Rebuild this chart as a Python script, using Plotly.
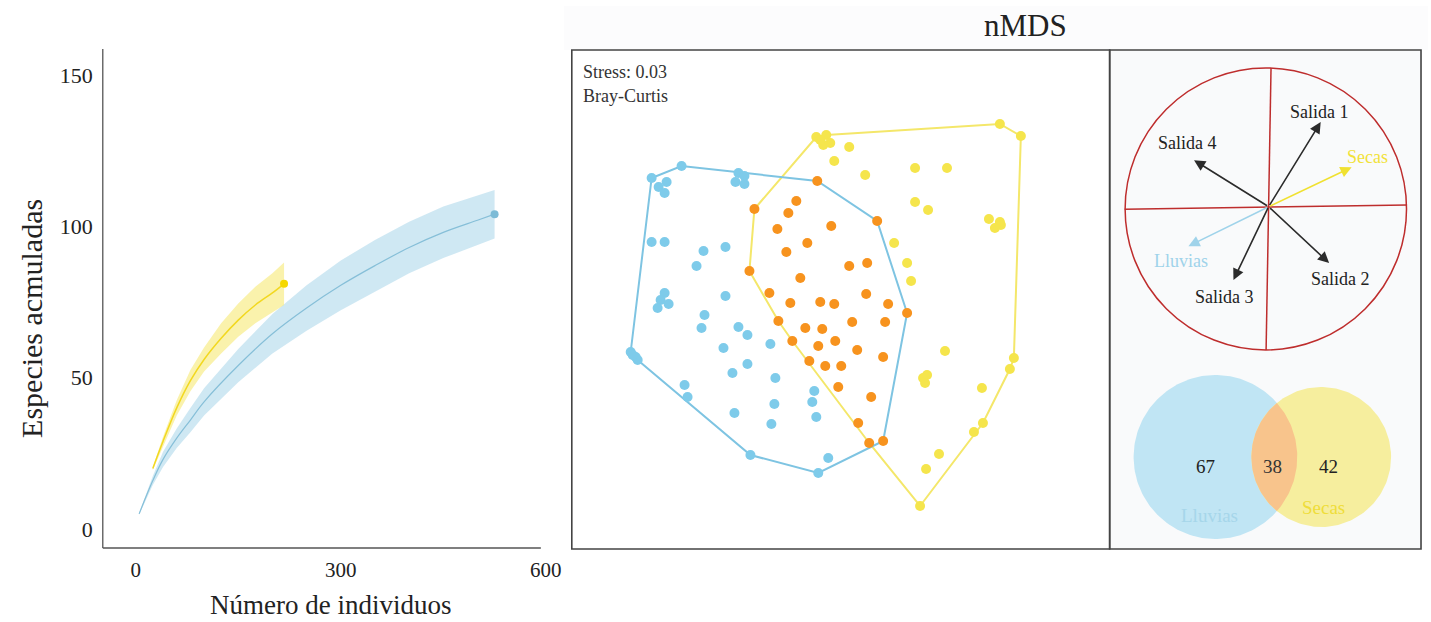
import numpy as np
import plotly.graph_objects as go

W, H = 1431, 622
FONT = "Liberation Serif, Times New Roman, serif"

# ---------------- Data ----------------
# Rarefaction curves
lluvias_n  = [5, 25, 40, 60, 80, 100, 150, 200, 250, 300, 350, 400, 450, 500, 525]
lluvias_s  = [5, 16, 23, 30, 36, 42, 54, 64.5, 73, 80.5, 87, 93, 98, 102, 104]
lluvias_ci = [0.3, 1.5, 2.5, 3.2, 4, 4.5, 5.5, 6.5, 7.5, 8.2, 8.5, 8.5, 8.5, 8.2, 8]
secas_n  = [25, 40, 60, 80, 100, 125, 150, 175, 200, 217]
secas_s  = [20, 29, 40, 49, 56, 63, 69, 74, 78, 81]
secas_ci = [0.5, 1.5, 2.5, 3.5, 4, 5, 5.5, 6, 6.5, 7]
x_ticks = [0, 300, 600]
y_ticks = [0, 50, 100, 150]

# nMDS scores
lluvias_nmds1 = [-1.87, -1.57, -1.80, -1.72, -1.74, -1.00, -0.94, -1.03, -0.94, -1.87, -1.74,
                 -1.35, -1.13, -1.42, -1.74, -1.78, -1.70, -1.81, -1.13, -1.34, -1.37, -1.00,
                 -0.91, -1.15, -0.68, -0.91, -1.06, -0.63, -2.08, -2.03, -2.01, -2.06, -1.54,
                 -1.51, -1.04, -0.64, -0.67, -0.24, -0.26, -0.22, -0.88, -0.20, -0.10]
lluvias_nmds2 = [1.22, 1.34, 1.13, 1.18, 1.07, 1.27, 1.24, 1.18, 1.16, 0.58, 0.58,
                 0.49, 0.53, 0.34, 0.07, 0.00, -0.04, -0.08, 0.04, -0.15, -0.28, -0.27,
                 -0.35, -0.48, -0.44, -0.64, -0.73, -0.78, -0.52, -0.57, -0.60, -0.55, -0.85,
                 -0.97, -1.13, -1.04, -1.24, -0.91, -1.02, -1.17, -1.55, -1.73, -1.58]
secas_nmds1 = [-0.22, -0.12, -0.08, -0.15, -0.18, 0.11, -0.04, 0.27, 0.77, 1.09, 0.77,
               0.90, 1.62, 1.83, 1.51, 1.62, 1.63, 1.57, 0.56, 0.69, 0.73, 1.07,
               0.85, 0.89, 0.87, 1.44, 1.76, 1.72, 1.45, 1.36, 1.01, 0.88, 0.82]
secas_nmds2 = [1.63, 1.65, 1.57, 1.55, 1.60, 1.53, 1.39, 1.25, 1.32, 1.32, 0.98,
               0.90, 1.76, 1.64, 0.81, 0.78, 0.75, 0.72, 0.57, 0.37, 0.19, -0.51,
               -0.78, -0.75, -0.83, -0.88, -0.58, -0.69, -1.23, -1.32, -1.54, -1.69, -2.06]
ambas_nmds1 = [-0.21, 0.39, -0.42, -0.50, -0.84, -0.61, -0.07, -0.31, -0.52, -0.89, 0.11,
               0.29, -0.38, -0.69, -0.48, -0.18, -0.04, 0.28, 0.50, 0.69, -0.60, -0.33,
               -0.16, 0.14, 0.47, -0.46, -0.20, -0.03, 0.19, 0.45, -0.29, -0.13, 0.03,
               0.00, 0.33, 0.20, 0.31, 0.45]
ambas_nmds2 = [1.19, 0.79, 0.99, 0.87, 0.91, 0.71, 0.74, 0.57, 0.48, 0.29, 0.34,
               0.37, 0.22, 0.07, -0.03, -0.02, -0.04, 0.06, -0.04, -0.13, -0.21, -0.28,
               -0.29, -0.22, -0.22, -0.41, -0.46, -0.41, -0.50, -0.57, -0.61, -0.66, -0.66,
               -0.87, -0.97, -1.23, -1.43, -1.41]

# Biplot vectors (unit circle)
vec_names = ["Salida 1", "Salida 4", "Secas", "Lluvias", "Salida 3", "Salida 2"]
vec_x = [0.37, -0.53, 0.59, -0.57, -0.25, 0.43]
vec_y = [0.60, 0.33, 0.28, -0.28, -0.52, -0.40]

# Venn counts
venn_labels = ["Lluvias", "Secas"]
venn_counts = [67, 38, 42]   # solo Lluvias, compartidas, solo Secas

# ---------------- Styles / layout constants ----------------
C_BLUE = "#7ecbea"
C_ORANGE = "#f7931e"
C_YELLOW = "#f5e54c"
vec_colors = ["#2b2b2b", "#2b2b2b", "#f0e130", "#9fd3ea", "#2b2b2b", "#2b2b2b"]
vec_label_colors = ["#222222", "#222222", "#f2e23a", "#9fd3ea", "#222222", "#222222"]
vec_label_pos = [(0.365, 0.674), (-0.574, 0.450), (0.700, 0.350),
                 (-0.621, -0.383), (-0.314, -0.638), (0.513, -0.515)]


def px(x):
    return x / W


def py(y):
    return 1 - y / H


def convex_hull(xs, ys):
    pts = sorted(set(zip(xs, ys)))

    def cross(o, a, b):
        return (a[0] - o[0]) * (b[1] - o[1]) - (a[1] - o[1]) * (b[0] - o[0])
    lower, upper = [], []
    for p in pts:
        while len(lower) >= 2 and cross(lower[-2], lower[-1], p) <= 0:
            lower.pop()
        lower.append(p)
    for p in reversed(pts):
        while len(upper) >= 2 and cross(upper[-2], upper[-1], p) <= 0:
            upper.pop()
        upper.append(p)
    hull = lower[:-1] + upper[:-1]
    hull.append(hull[0])
    return [p[0] for p in hull], [p[1] for p in hull]


fig = go.Figure()

# ---------- Rarefaction ----------
ln, ls, lc = np.array(lluvias_n), np.array(lluvias_s), np.array(lluvias_ci)
sn, ss, sc = np.array(secas_n), np.array(secas_s), np.array(secas_ci)
fig.add_trace(go.Scatter(x=np.concatenate([ln, ln[::-1]]),
                         y=np.concatenate([ls + lc, (ls - lc)[::-1]]),
                         fill="toself", fillcolor="rgba(140,200,226,0.42)",
                         line=dict(width=0), mode="lines", hoverinfo="skip",
                         xaxis="x", yaxis="y", showlegend=False))
fig.add_trace(go.Scatter(x=np.concatenate([sn, sn[::-1]]),
                         y=np.concatenate([ss + sc, (ss - sc)[::-1]]),
                         fill="toself", fillcolor="rgba(246,230,90,0.5)",
                         line=dict(width=0), mode="lines", hoverinfo="skip",
                         xaxis="x", yaxis="y", showlegend=False))
fig.add_trace(go.Scatter(x=lluvias_n, y=lluvias_s, mode="lines", line=dict(color="#86bfd8", width=1.2, shape="spline"),
                         xaxis="x", yaxis="y", showlegend=False))
fig.add_trace(go.Scatter(x=secas_n, y=secas_s, mode="lines", line=dict(color="#f2d820", width=1.5, shape="spline"),
                         xaxis="x", yaxis="y", showlegend=False))
fig.add_trace(go.Scatter(x=[lluvias_n[-1]], y=[lluvias_s[-1]], mode="markers",
                         marker=dict(color="#7dbbd6", size=8), xaxis="x", yaxis="y", showlegend=False))
fig.add_trace(go.Scatter(x=[secas_n[-1]], y=[secas_s[-1]], mode="markers",
                         marker=dict(color="#f5d800", size=8), xaxis="x", yaxis="y", showlegend=False))

# ---------- nMDS ----------
bx, by = convex_hull(lluvias_nmds1 + ambas_nmds1, lluvias_nmds2 + ambas_nmds2)
yx, yy = convex_hull(secas_nmds1 + ambas_nmds1, secas_nmds2 + ambas_nmds2)
fig.add_trace(go.Scatter(x=yx, y=yy, mode="lines", line=dict(color="#f4e76a", width=2),
                         xaxis="x2", yaxis="y2", showlegend=False))
fig.add_trace(go.Scatter(x=bx, y=by, mode="lines", line=dict(color="#7ec4e2", width=2),
                         xaxis="x2", yaxis="y2", showlegend=False))
fig.add_trace(go.Scatter(x=lluvias_nmds1, y=lluvias_nmds2, mode="markers",
                         marker=dict(color=C_BLUE, size=10), xaxis="x2", yaxis="y2", showlegend=False))
fig.add_trace(go.Scatter(x=secas_nmds1, y=secas_nmds2, mode="markers",
                         marker=dict(color=C_YELLOW, size=10), xaxis="x2", yaxis="y2", showlegend=False))
fig.add_trace(go.Scatter(x=ambas_nmds1, y=ambas_nmds2, mode="markers",
                         marker=dict(color=C_ORANGE, size=10), xaxis="x2", yaxis="y2", showlegend=False))

# ---------- Venn ----------
cA, rA = (1218.0, 457.0), 82.0
cB, rB = (1324.0, 457.0), 70.0
t = np.linspace(0, 2 * np.pi, 200)
fig.add_trace(go.Scatter(x=cA[0] + rA * np.cos(t), y=cA[1] + rA * np.sin(t), mode="lines",
                         fill="toself", fillcolor="#c0e5f4", line=dict(width=0),
                         xaxis="x4", yaxis="y4", showlegend=False, hoverinfo="skip"))
fig.add_trace(go.Scatter(x=cB[0] + rB * np.cos(t), y=cB[1] + rB * np.sin(t), mode="lines",
                         fill="toself", fillcolor="#f6ee9e", line=dict(width=0),
                         xaxis="x4", yaxis="y4", showlegend=False, hoverinfo="skip"))
d = cB[0] - cA[0]
a = (rA ** 2 - rB ** 2 + d ** 2) / (2 * d)
h = np.sqrt(rA ** 2 - a ** 2)
alA = np.arctan2(h, a)
alB = np.arctan2(h, d - a)
ta = np.linspace(-alA, alA, 60)
tb = np.linspace(np.pi - alB, np.pi + alB, 60)
lens_x = np.concatenate([cA[0] + rA * np.cos(ta), cB[0] + rB * np.cos(tb)])
lens_y = np.concatenate([cA[1] + rA * np.sin(ta), cB[1] - rB * np.sin(tb)])
fig.add_trace(go.Scatter(x=lens_x, y=lens_y, mode="lines", fill="toself", fillcolor="#f8c48c",
                         line=dict(width=0), xaxis="x4", yaxis="y4", showlegend=False, hoverinfo="skip"))

# ---------- Shapes ----------
shapes = [
    dict(type="rect", xref="paper", yref="paper", x0=px(565), x1=1, y0=py(50), y1=py(6),
         fillcolor="#fcfcfd", line=dict(width=0), layer="below"),
    dict(type="rect", xref="paper", yref="paper", x0=px(1112), x1=px(1424), y0=py(549), y1=py(50),
         fillcolor="#f9fafb", line=dict(width=0), layer="below"),
    dict(type="rect", xref="paper", yref="paper", x0=px(573), x1=px(1112), y0=py(549), y1=py(50),
         line=dict(color="#444444", width=1.6), layer="above"),
    dict(type="rect", xref="paper", yref="paper", x0=px(1112), x1=px(1424), y0=py(549), y1=py(50),
         line=dict(color="#444444", width=1.6), layer="above"),
    # left chart axis lines
    dict(type="line", xref="paper", yref="paper", x0=px(103), x1=px(103), y0=py(548), y1=py(49),
         line=dict(color="#555555", width=1.3)),
    dict(type="line", xref="paper", yref="paper", x0=px(103), x1=px(542), y0=py(548), y1=py(548),
         line=dict(color="#555555", width=1.3)),
    # biplot circle and cross
    dict(type="circle", xref="x3", yref="y3", x0=-1.02, x1=0.98, y0=-1.016, y1=0.984,
         line=dict(color="#be2d2d", width=1.5)),
    dict(type="line", xref="x3", yref="y3", x0=0.017, y0=0.984, x1=-0.018, y1=-1.016,
         line=dict(color="#be2d2d", width=1.5)),
    dict(type="line", xref="x3", yref="y3", x0=-1.023, y0=-0.018, x1=0.984, y1=0.012,
         line=dict(color="#be2d2d", width=1.5)),
]

# ---------- Annotations ----------
ann = []


def text_ann(text, x, y, size, color, xref="paper", yref="paper", xanchor="center", **kw):
    return dict(text=text, x=x, y=y, xref=xref, yref=yref, showarrow=False,
                xanchor=xanchor, yanchor="middle",
                font=dict(family=FONT, size=size, color=color), **kw)


ann.append(text_ann("nMDS", px(1028), py(25), 31, "#222222"))
ann.append(text_ann("Stress: 0.03", px(582), py(72), 18, "#333333", xanchor="left"))
ann.append(text_ann("Bray-Curtis", px(582), py(96), 18, "#333333", xanchor="left"))
ann.append(text_ann("Especies acmuladas", px(31), py(318), 30, "#222222", textangle=-90))
ann.append(text_ann("Número de individuos", px(331), py(605), 27, "#222222"))
for name, vx, vy, col, lcol, (lx, ly) in zip(vec_names, vec_x, vec_y, vec_colors, vec_label_colors, vec_label_pos):
    ann.append(dict(x=vx, y=vy, ax=0, ay=0, xref="x3", yref="y3", axref="x3", ayref="y3",
                    text="", showarrow=True, arrowhead=2, arrowsize=1.4, arrowwidth=1.6,
                    arrowcolor=col))
    ann.append(text_ann(name, lx, ly, 18, lcol, xref="x3", yref="y3"))
ann.append(text_ann(str(venn_counts[0]), 1208, 466, 19, "#222222", xref="x4", yref="y4"))
ann.append(text_ann(str(venn_counts[1]), 1275, 466, 19, "#333333", xref="x4", yref="y4"))
ann.append(text_ann(str(venn_counts[2]), 1331, 466, 19, "#222222", xref="x4", yref="y4"))
ann.append(text_ann(venn_labels[0], 1212, 515, 19, "#a6d6ea", xref="x4", yref="y4"))
ann.append(text_ann(venn_labels[1], 1326, 507, 19, "#efdd3a", xref="x4", yref="y4"))

hidden = dict(visible=False, showgrid=False, zeroline=False)
fig.update_layout(
    width=W, height=H, margin=dict(l=0, r=0, t=0, b=0),
    paper_bgcolor="white", plot_bgcolor="rgba(0,0,0,0)",
    showlegend=False,
    xaxis=dict(domain=[px(103), px(560)], range=[(103 - 136) / 0.685, (560 - 136) / 0.685],
               tickvals=x_ticks, ticks="", showline=False, showgrid=False, zeroline=False,
               ticklabelstandoff=7, tickfont=dict(family=FONT, size=21, color="#222222")),
    yaxis=dict(domain=[py(548), py(49)], range=[-(548 - 529) / 3.027, (529 - 49) / 3.027],
               tickvals=y_ticks, ticks="", showline=False, showgrid=False, zeroline=False,
               ticklabelstandoff=9, tickfont=dict(family=FONT, size=22, color="#222222")),
    xaxis2=dict(domain=[px(573), px(1112)], range=[-2.67, 2.72], **hidden),
    yaxis2=dict(domain=[py(549), py(50)], range=[-2.49, 2.50], **hidden),
    xaxis3=dict(domain=[px(1112), px(1424)], range=[-1.1298, 1.0830], **hidden),
    yaxis3=dict(domain=[py(360), py(50)], range=[-1.0872, 1.1113], **hidden),
    xaxis4=dict(domain=[px(1112), px(1424)], range=[1112, 1424], **hidden),
    yaxis4=dict(domain=[py(549), py(365)], range=[549, 365], **hidden),
    shapes=shapes, annotations=ann,
)

fig.write_html("out.html", config={"displayModeBar": False},
               post_script="document.body.style.margin='0';")
